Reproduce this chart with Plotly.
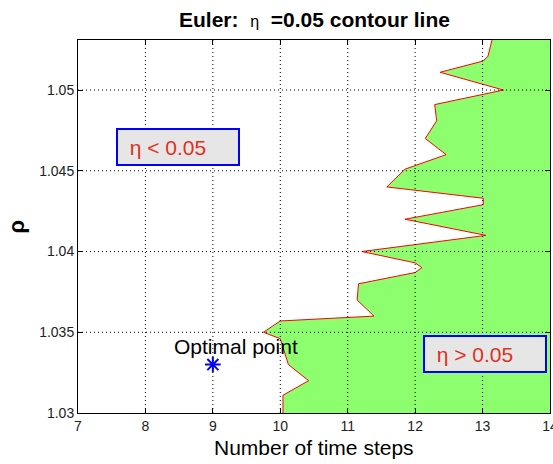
import plotly.graph_objects as go

# ---- data ----
contour_steps = [13.14, 13.08, 13.01, 12.37, 13.31, 12.29, 12.32, 12.15, 12.46, 11.85,
                 11.58, 13.01, 13.01, 11.85, 13.05, 11.21, 12.00, 12.10, 12.00, 11.16,
                 11.14, 11.39, 10.00, 9.75, 10.00, 10.12, 10.42, 10.04, 10.04]
contour_rho = [1.0531, 1.0521, 1.0518, 1.0511, 1.0500, 1.0491, 1.0481, 1.0470, 1.0460, 1.0451,
               1.0440, 1.0433, 1.0429, 1.0420, 1.0410, 1.0400, 1.0393, 1.0390, 1.0387, 1.0380,
               1.0370, 1.0360, 1.0357, 1.0350, 1.0346, 1.0330, 1.0320, 1.0311, 1.0300]
optimal_steps = [9]
optimal_rho = [1.033]

x_range = [7, 14]
y_range = [1.03, 1.0531]
x_ticks = [7, 8, 9, 10, 11, 12, 13, 14]
x_ticklabels = ["7", "8", "9", "10", "11", "12", "13", "14"]
y_ticks = [1.03, 1.035, 1.04, 1.045, 1.05]
y_ticklabels = ["1.03", "1.035", "1.04", "1.045", "1.05"]

GREEN = "#8DFF6E"
BOXTXT = "#E0301E"
FONT = "Liberation Sans, Arial"

fig = go.Figure()

# filled region (eta > 0.05): contour + right edge of the axes
fill_x = contour_steps + [x_range[1], x_range[1]]
fill_y = contour_rho + [y_range[0], y_range[1]]
fig.add_trace(go.Scatter(x=fill_x, y=fill_y, mode="lines", fill="toself",
                         fillcolor=GREEN, line=dict(width=0), hoverinfo="skip",
                         showlegend=False))
fig.add_trace(go.Scatter(x=contour_steps, y=contour_rho, mode="lines",
                         line=dict(color="#FF0000", width=1), showlegend=False))
fig.add_trace(go.Scatter(x=optimal_steps, y=optimal_rho, mode="markers",
                         marker=dict(symbol="asterisk-open", size=13, color="#0000FF",
                                     line=dict(color="#0000FF", width=2)),
                         showlegend=False))

# dotted grid drawn above the fill (as in the reference)
shapes = []
for t in x_ticks[1:-1]:
    shapes.append(dict(type="line", xref="x", yref="paper", x0=t, x1=t, y0=0, y1=1,
                       line=dict(color="black", width=1, dash="1px,3px"), layer="above"))
for t in y_ticks[1:]:
    shapes.append(dict(type="line", xref="paper", yref="y", x0=0, x1=1, y0=t, y1=t,
                       line=dict(color="black", width=1, dash="1px,3px"), layer="above"))

annotations = [
    dict(x=8.48, y=1.04645, xref="x", yref="y", text="&nbsp;&nbsp;η < 0.05",
         showarrow=False, font=dict(family=FONT, size=21, color=BOXTXT),
         bgcolor="#E6E6E6", bordercolor="#0000FF", borderwidth=2, borderpad=0,
         width=120, height=34, align="left", xanchor="center", yanchor="middle"),
    dict(x=13.04, y=1.03367, xref="x", yref="y", text="&nbsp;&nbsp;η > 0.05",
         showarrow=False, font=dict(family=FONT, size=21, color=BOXTXT),
         bgcolor="#E6E6E6", bordercolor="#0000FF", borderwidth=2, borderpad=0,
         width=120, height=34, align="left", xanchor="center", yanchor="middle"),
    dict(x=9.34, y=1.0341, xref="x", yref="y", text="Optimal point", showarrow=False,
         font=dict(family=FONT, size=21, color="black"),
         xanchor="center", yanchor="middle"),
    dict(x=0.5, y=0, xref="paper", yref="paper", text="Number of time steps",
         showarrow=False, font=dict(family=FONT, size=21, color="black"),
         xanchor="center", yanchor="middle", yshift=-34),
    dict(x=0, y=0.5, xref="paper", yref="paper", text="<b>ρ</b>", textangle=-90,
         showarrow=False, font=dict(family=FONT, size=22, color="black"),
         xanchor="center", yanchor="middle", xshift=-62),
    dict(x=0.5, y=1, xref="paper", yref="paper",
         text="<b>Euler:</b>  <span style='font-size:16px'>η</span>  <b>=0.05 contour line</b>",
         showarrow=False, font=dict(family=FONT, size=21, color="black"),
         xanchor="center", yanchor="middle", yshift=21),
]

axis_common = dict(showgrid=False, zeroline=False, showline=True, linecolor="black",
                   linewidth=1, mirror="ticks", ticks="inside", ticklen=5,
                   tickcolor="black", ticklabeloverflow="allow", automargin=False,
                   tickfont=dict(family=FONT, size=14, color="#222"))
fig.update_xaxes(range=x_range, tickvals=x_ticks, ticktext=x_ticklabels, **axis_common)
fig.update_yaxes(range=y_range, tickvals=y_ticks, ticktext=y_ticklabels, **axis_common)

fig.update_layout(width=553, height=464,
                  margin=dict(l=78, r=3, t=40, b=51, autoexpand=False),
                  paper_bgcolor="white", plot_bgcolor="white",
                  shapes=shapes, annotations=annotations, showlegend=False)

fig.write_html("out.html")
